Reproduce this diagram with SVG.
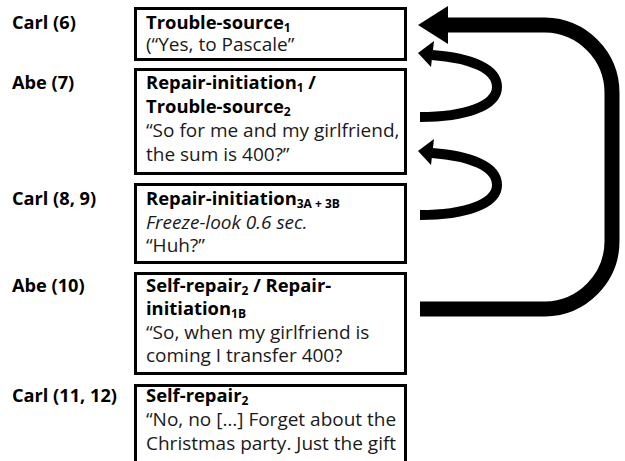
<svg xmlns="http://www.w3.org/2000/svg" width="625" height="461" viewBox="0 0 625 461">
<style>
.box{fill:#fff;stroke:#000;stroke-width:3}
.t{font-family:"Open Sans","Noto Sans","Liberation Sans",sans-serif;font-size:19px;fill:#1a1a1a}
.b{font-weight:bold;font-size:18.4px;fill:#000}
.i{font-style:italic}
.sub{font-size:12px}
.lbl{font-family:"Open Sans","Noto Sans","Liberation Sans",sans-serif;font-size:18.2px;font-weight:bold;fill:#000}
.arr{fill:none;stroke:#000}
</style>
<rect width="625" height="461" fill="#fff"/>
<g id="labels">
<text class="lbl" x="12" y="29">Carl (6)</text>
<text class="lbl" x="12" y="89">Abe (7)</text>
<text class="lbl" x="12" y="205">Carl (8, 9)</text>
<text class="lbl" x="12" y="292">Abe (10)</text>
<text class="lbl" x="12" y="402">Carl (11, 12)</text>
</g>
<g id="n1">
<rect class="box" x="135.5" y="8.5" width="270" height="51"/>
<text class="t b" x="146" y="29">Trouble-source<tspan class="sub" dy="3">1</tspan></text>
<text class="t" x="146" y="51">(“Yes, to Pascale”</text>
</g>
<g id="n2">
<rect class="box" x="135.5" y="69.5" width="270" height="104"/>
<text class="t b" x="146" y="89">Repair-initiation<tspan class="sub" dy="3">1</tspan><tspan dy="-3"> /</tspan></text>
<text class="t b" x="146" y="113">Trouble-source<tspan class="sub" dy="3">2</tspan></text>
<text class="t" x="146" y="137">“So for me and my girlfriend,</text>
<text class="t" x="146" y="161">the sum is 400?”</text>
</g>
<g id="n3">
<rect class="box" x="135.5" y="184.5" width="270" height="78"/>
<text class="t b" x="146" y="205">Repair-initiation<tspan class="sub" dy="3">3A + 3B</tspan></text>
<text class="t i" x="146" y="229">Freeze-look 0.6 sec.</text>
<text class="t" x="146" y="252">“Huh?”</text>
</g>
<g id="n4">
<rect class="box" x="135.5" y="273.5" width="270" height="100"/>
<text class="t b" x="146" y="292">Self-repair<tspan class="sub" dy="3">2</tspan><tspan dy="-3"> / Repair-</tspan></text>
<text class="t b" x="146" y="315">initiation<tspan class="sub" dy="3">1B</tspan></text>
<text class="t" x="146" y="339">“So, when my girlfriend is</text>
<text class="t" x="146" y="362">coming I transfer 400?</text>
</g>
<g id="n5">
<rect class="box" x="135.5" y="385.5" width="270" height="100"/>
<text class="t b" x="146" y="402">Self-repair<tspan class="sub" dy="3">2</tspan></text>
<text class="t" x="146" y="426">“No, no […] Forget about the</text>
<text class="t" x="146" y="450">Christmas party. Just the gift</text>
</g>
<g id="connectors">
<path class="arr" stroke-width="15" d="M420 309 H545 A68 68 0 0 0 612 241 V93 A68 68 0 0 0 545 25 H442"/>
<polygon points="418,25 448,6 448,44" fill="#000"/>
<path class="arr" stroke-width="10" d="M420 117 C465 117 497 106 497 87 C497 68 470 58 432 55"/>
<polygon points="418,53 434,41 431,67" fill="#000"/>
<path class="arr" stroke-width="10" d="M420 215 C465 215 497 204 497 185 C497 166 470 156 432 153"/>
<polygon points="418,151 434,139 431,165" fill="#000"/>
</g>
</svg>
